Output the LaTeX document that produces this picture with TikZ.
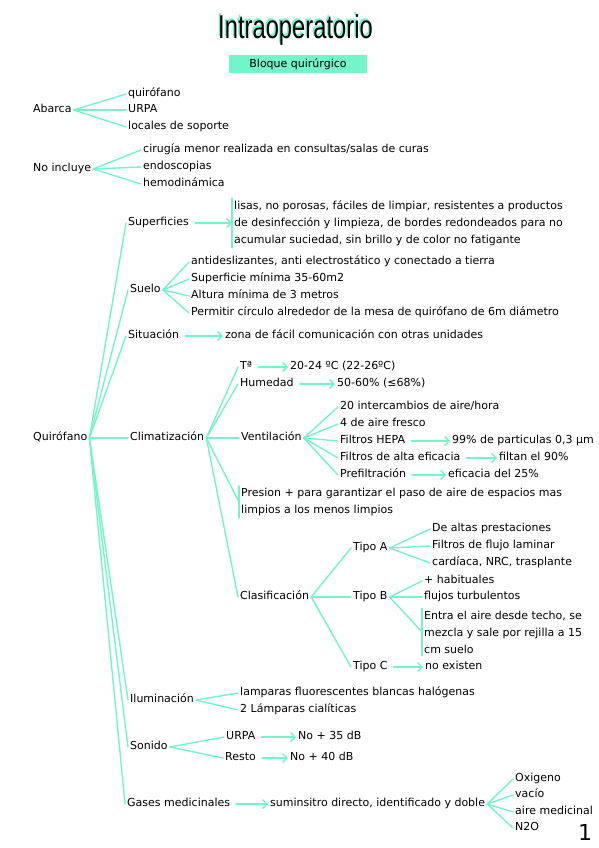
\documentclass[tikz,border=0pt]{standalone}
\usepackage{fontspec}
\setmainfont{DejaVu Sans}
\newfontfamily\titlefont{Liberation Sans}
\usetikzlibrary{positioning,arrows.meta}
\definecolor{mint}{HTML}{74F5C9}
\def\fs{\fontsize{11}{17}\selectfont}
\tikzstyle{item}=[anchor=west,inner xsep=2pt,inner ysep=0pt,text height=7.8pt,text depth=2.6pt,font=\fs]
\tikzstyle{block}=[anchor=west,inner xsep=2pt,inner ysep=2pt,align=left,font=\fs]
\tikzstyle{branch}=[draw=mint,line width=1.4pt]
\newcommand{\newItem}[3]{\node[item](#1) at (#3){#2};}
\newcommand{\newBlock}[3]{\node[block](#1) at (#3){#2};\draw[branch] (#1.north west) -- (#1.south west);}
\newcommand{\newBranch}[2]{\draw[branch] (#1.east) -- (#2.west);}
\newcommand{\newArrow}[2]{\draw[branch,->,shorten <=4pt] (#1.east) -- (#2.west);}

\begin{document}
\begin{tikzpicture}[x=1pt,y=-1pt,
    >={Straight Barb[length=4.5pt,width=9pt]},
    line cap=round
    ]
    \useasboundingbox (0,0) rectangle (599,848);
    % title
    \node[text=mint,xscale=0.72,font=\titlefont\fontsize{33}{33}\selectfont] (title-shadow) at (294,28) {Intraoperatorio};
    \node[xscale=0.72,font=\titlefont\fontsize{33}{33}\selectfont] (title) at (295.5,29.5) {Intraoperatorio};
    \node[fill=mint,minimum width=138pt,minimum height=18pt,inner sep=0pt,font=\fs] (bloque) at (298,64.5) {Bloque quirúrgico};
    % abarca / no incluye
    \newItem{abarca}{Abarca}{31,110}
    \newItem{abarca1}{quirófano}{126,94}
    \newItem{abarca2}{URPA}{126,110}
    \newItem{abarca3}{locales de soporte}{126,127}
    \newBranch{abarca}{abarca1}
    \newBranch{abarca}{abarca2}
    \newBranch{abarca}{abarca3}
    \newItem{noinc}{No incluye}{31,169}
    \newItem{noinc1}{cirugía menor realizada en consultas/salas de curas}{141,150}
    \newItem{noinc2}{endoscopias}{141,167}
    \newItem{noinc3}{hemodinámica}{141,184}
    \newBranch{noinc}{noinc1}
    \newBranch{noinc}{noinc2}
    \newBranch{noinc}{noinc3}
    % quirofano
    \newItem{quir}{Quirófano}{31,438}
    \newItem{sup}{Superficies}{126,223}
    \newBlock{supt}{lisas, no porosas, fáciles de limpiar, resistentes a productos\\de desinfección y limpieza, de bordes redondeados para no\\acumular suciedad, sin brillo y de color no fatigante}{232,223}
    \newArrow{sup}{supt}
    \newItem{suelo}{Suelo}{128,290}
    \newItem{suelo1}{antideslizantes, anti electrostático y conectado a tierra}{189,262}
    \newItem{suelo2}{Superficie mínima 35-60m2}{189,279}
    \newItem{suelo3}{Altura mínima de 3 metros}{189,296}
    \newItem{suelo4}{Permitir círculo alrededor de la mesa de quirófano de 6m diámetro}{189,313}
    \newBranch{suelo}{suelo1}
    \newBranch{suelo}{suelo2}
    \newBranch{suelo}{suelo3}
    \newBranch{suelo}{suelo4}
    \newItem{sit}{Situación}{126,336}
    \newItem{sitt}{zona de fácil comunicación con otras unidades}{223,336}
    \newArrow{sit}{sitt}
    % climatizacion
    \newItem{clim}{Climatización}{128,438}
    \newItem{temp}{Tª}{238,367}
    \newItem{tempt}{20-24 ºC (22-26ºC)}{288,367}
    \newArrow{temp}{tempt}
    \newItem{hum}{Humedad}{238,384}
    \newItem{humt}{50-60\% (≤68\%)}{335,384}
    \newArrow{hum}{humt}
    \newItem{vent}{Ventilación}{239,438}
    \newItem{vent1}{20 intercambios de aire/hora}{338,407}
    \newItem{vent2}{4 de aire fresco}{338,424}
    \newItem{vent3}{Filtros HEPA}{338,441}
    \newItem{vent4}{Filtros de alta eficacia}{338,458}
    \newItem{vent5}{Prefiltración}{338,475}
    \newBranch{vent}{vent1}
    \newBranch{vent}{vent2}
    \newBranch{vent}{vent3}
    \newBranch{vent}{vent4}
    \newBranch{vent}{vent5}
    \newItem{vent3t}{99\% de particulas 0,3 µm}{450,441}
    \newItem{vent4t}{filtan el 90\%}{497,458}
    \newItem{vent5t}{eficacia del 25\%}{446,475}
    \newArrow{vent3}{vent3t}
    \newArrow{vent4}{vent4t}
    \newArrow{vent5}{vent5t}
    \newBlock{pres}{Presion + para garantizar el paso de aire de espacios mas\\limpios a los menos limpios}{239,502}
    \newItem{clas}{Clasificación}{238,597}
    \newItem{tipoA}{Tipo A}{351,548}
    \newItem{tipoA1}{De altas prestaciones}{430,529}
    \newItem{tipoA2}{Filtros de flujo laminar}{430,546}
    \newItem{tipoA3}{cardíaca, NRC, trasplante}{430,563}
    \newBranch{tipoA}{tipoA1}
    \newBranch{tipoA}{tipoA2}
    \newBranch{tipoA}{tipoA3}
    \newItem{tipoB}{Tipo B}{351,597}
    \newItem{tipoB1}{+ habituales}{422,581}
    \newItem{tipoB2}{flujos turbulentos}{422,597}
    \newBlock{tipoB3}{Entra el aire desde techo, se\\mezcla y sale por rejilla a 15\\cm suelo}{422,632}
    \newBranch{tipoB}{tipoB1}
    \newBranch{tipoB}{tipoB2}
    \newBranch{tipoB}{tipoB3}
    \newItem{tipoC}{Tipo C}{351,667}
    \newItem{tipoCt}{no existen}{423,667}
    \newArrow{tipoC}{tipoCt}
    \newBranch{clas}{tipoA}
    \newBranch{clas}{tipoB}
    \newBranch{clas}{tipoC}
    \newBranch{clim}{temp}
    \newBranch{clim}{hum}
    \newBranch{clim}{vent}
    \newBranch{clim}{pres}
    \newBranch{clim}{clas}
    % iluminacion, sonido, gases
    \newItem{ilum}{Iluminación}{128,700}
    \newItem{ilum1}{lamparas fluorescentes blancas halógenas}{238,693}
    \newItem{ilum2}{2 Lámparas cialíticas}{238,710}
    \newBranch{ilum}{ilum1}
    \newBranch{ilum}{ilum2}
    \newItem{son}{Sonido}{128,747}
    \newItem{son1}{URPA}{224,737}
    \newItem{son2}{Resto}{223,758}
    \newItem{son1t}{No + 35 dB}{296,737}
    \newItem{son2t}{No + 40 dB}{288,758}
    \newBranch{son}{son1}
    \newBranch{son}{son2}
    \newArrow{son1}{son1t}
    \newArrow{son2}{son2t}
    \newItem{gas}{Gases medicinales}{125,804}
    \newItem{gast}{suminsitro directo, identificado y doble}{268,804}
    \newArrow{gas}{gast}
    \newItem{gas1}{Oxigeno}{513,779}
    \newItem{gas2}{vacío}{513,795}
    \newItem{gas3}{aire medicinal}{513,812}
    \newItem{gas4}{N2O}{513,828}
    \newBranch{gast}{gas1}
    \newBranch{gast}{gas2}
    \newBranch{gast}{gas3}
    \newBranch{gast}{gas4}
    \newBranch{quir}{sup}
    \newBranch{quir}{suelo}
    \newBranch{quir}{sit}
    \newBranch{quir}{clim}
    \newBranch{quir}{ilum}
    \newBranch{quir}{son}
    \newBranch{quir}{gas}
    % page number
    \node[font=\fontsize{22}{22}\selectfont] (page) at (585,832) {1};
  \end{tikzpicture}
\end{document}
